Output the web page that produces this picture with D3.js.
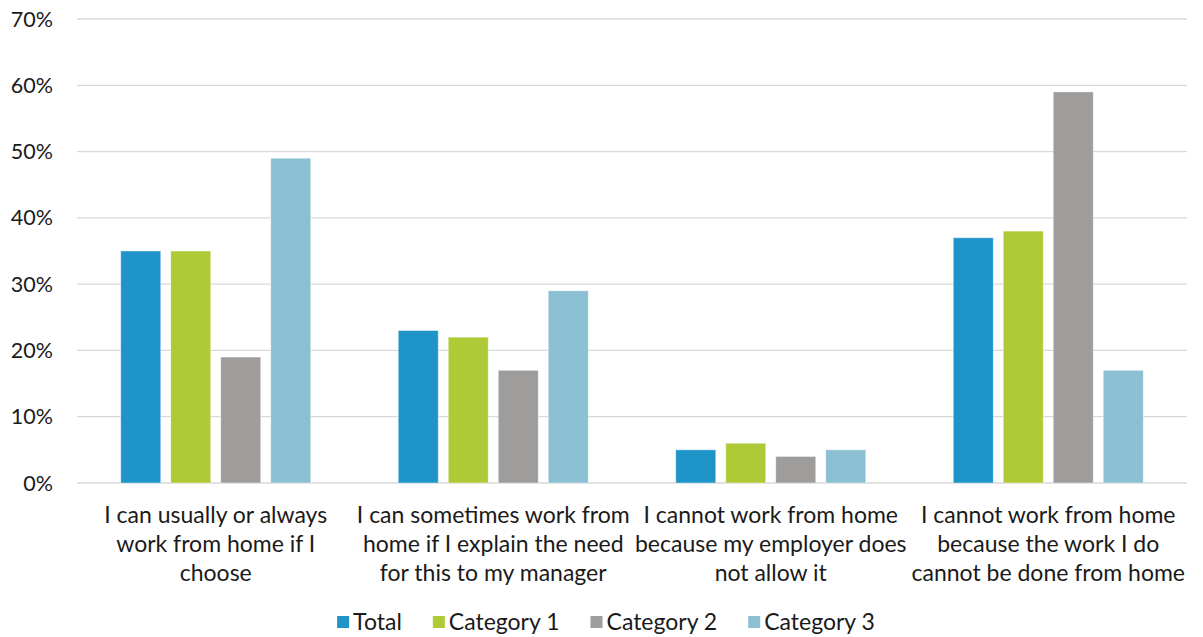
<!DOCTYPE html>
<html>
<head>
<meta charset="utf-8">
<script src="https://cdn.jsdelivr.net/npm/d3@7"></script>
<style>
  body { margin: 0; background: #fff; }
  text { font-family: Lato, "Open Sans", sans-serif; fill: #1a1a1a; }
</style>
</head>
<body>
<div id="chart"></div>
<script>
const width = 1203;
const height = 637;

// categories, each split in the lines shown under the axis
const categories = [
  ['I can usually or always', 'work from home if I', 'choose'],
  ['I can sometimes work from', 'home if I explain the need', 'for this to my manager'],
  ['I cannot work from home', 'because my employer does', 'not allow it'],
  ['I cannot work from home', 'because the work I do', 'cannot be done from home']
];
const seriesNames = ['Total', 'Category 1', 'Category 2', 'Category 3'];
const total = [35, 23, 5, 37];
const cat1 = [35, 22, 6, 38];
const cat2 = [19, 17, 4, 59];
const cat3 = [49, 29, 5, 17];
const yTicks = [0, 10, 20, 30, 40, 50, 60, 70];

const colors = ['#1f94c9', '#aecb37', '#9e9d9b', '#8bbfd2'];
const seriesValues = [total, cat1, cat2, cat3];

const margin = { top: 19, right: 16, bottom: 154, left: 77 };

const svg = d3.select('#chart').append('svg')
  .attr('width', width)
  .attr('height', height);

const x0 = d3.scaleBand()
  .domain(d3.range(categories.length))
  .range([margin.left, width - margin.right]);

const x1 = d3.scaleBand()
  .domain(d3.range(seriesNames.length))
  .range([0, 190])
  .paddingInner(0.2);

const y = d3.scaleLinear()
  .domain([0, 70])
  .range([height - margin.bottom, margin.top]);

// gridlines
svg.append('g')
  .selectAll('line')
  .data(yTicks)
  .enter()
  .append('line')
  .attr('x1', margin.left)
  .attr('x2', width - margin.right)
  .attr('y1', d => y(d))
  .attr('y2', d => y(d))
  .attr('stroke', '#d9d9d9')
  .attr('stroke-width', 1.3);

// y labels
svg.append('g')
  .selectAll('text')
  .data(yTicks)
  .enter()
  .append('text')
  .attr('x', 53)
  .attr('y', d => y(d))
  .attr('dy', '0.35em')
  .attr('text-anchor', 'end')
  .attr('font-size', 21.5)
  .text(d => d + '%');

// bars
const groups = svg.append('g')
  .selectAll('g')
  .data(categories)
  .enter()
  .append('g')
  .attr('transform', (d, i) => `translate(${x0(i) + x0.bandwidth() / 2 - 95},0)`);

groups.selectAll('rect')
  .data((d, i) => seriesValues.map((s, j) => ({ j, v: s[i] })))
  .enter()
  .append('rect')
  .attr('x', d => x1(d.j))
  .attr('y', d => y(d.v))
  .attr('width', x1.bandwidth())
  .attr('height', d => y(0) - y(d.v))
  .attr('fill', d => colors[d.j])
  .attr('stroke', '#ffffff')
  .attr('stroke-opacity', 0.5)
  .attr('stroke-width', 0.8);

// category labels
const labels = svg.append('g')
  .selectAll('text')
  .data(categories)
  .enter()
  .append('text')
  .attr('x', (d, i) => x0(i) + x0.bandwidth() / 2)
  .attr('y', 523)
  .attr('text-anchor', 'middle')
  .attr('font-size', 23);

labels.selectAll('tspan')
  .data(d => d)
  .enter()
  .append('tspan')
  .attr('x', function () { return d3.select(this.parentNode).attr('x'); })
  .attr('dy', (d, i) => i === 0 ? 0 : 29)
  .text(d => d);

// legend
const legend = svg.append('g');
let lx = 0;
seriesNames.forEach((name, i) => {
  const item = legend.append('g').attr('transform', `translate(${lx},0)`);
  item.append('rect')
    .attr('x', 0)
    .attr('y', 616)
    .attr('width', 12)
    .attr('height', 12)
    .attr('fill', colors[i]);
  const t = item.append('text')
    .attr('x', 16)
    .attr('y', 622)
    .attr('dy', '0.35em')
    .attr('font-size', 23)
    .text(name);
  lx += 16 + t.node().getComputedTextLength() + 31;
});
const legendWidth = lx - 31;
legend.attr('transform', `translate(${(336 + 876) / 2 - legendWidth / 2},0)`);
</script>
</body>
</html>
